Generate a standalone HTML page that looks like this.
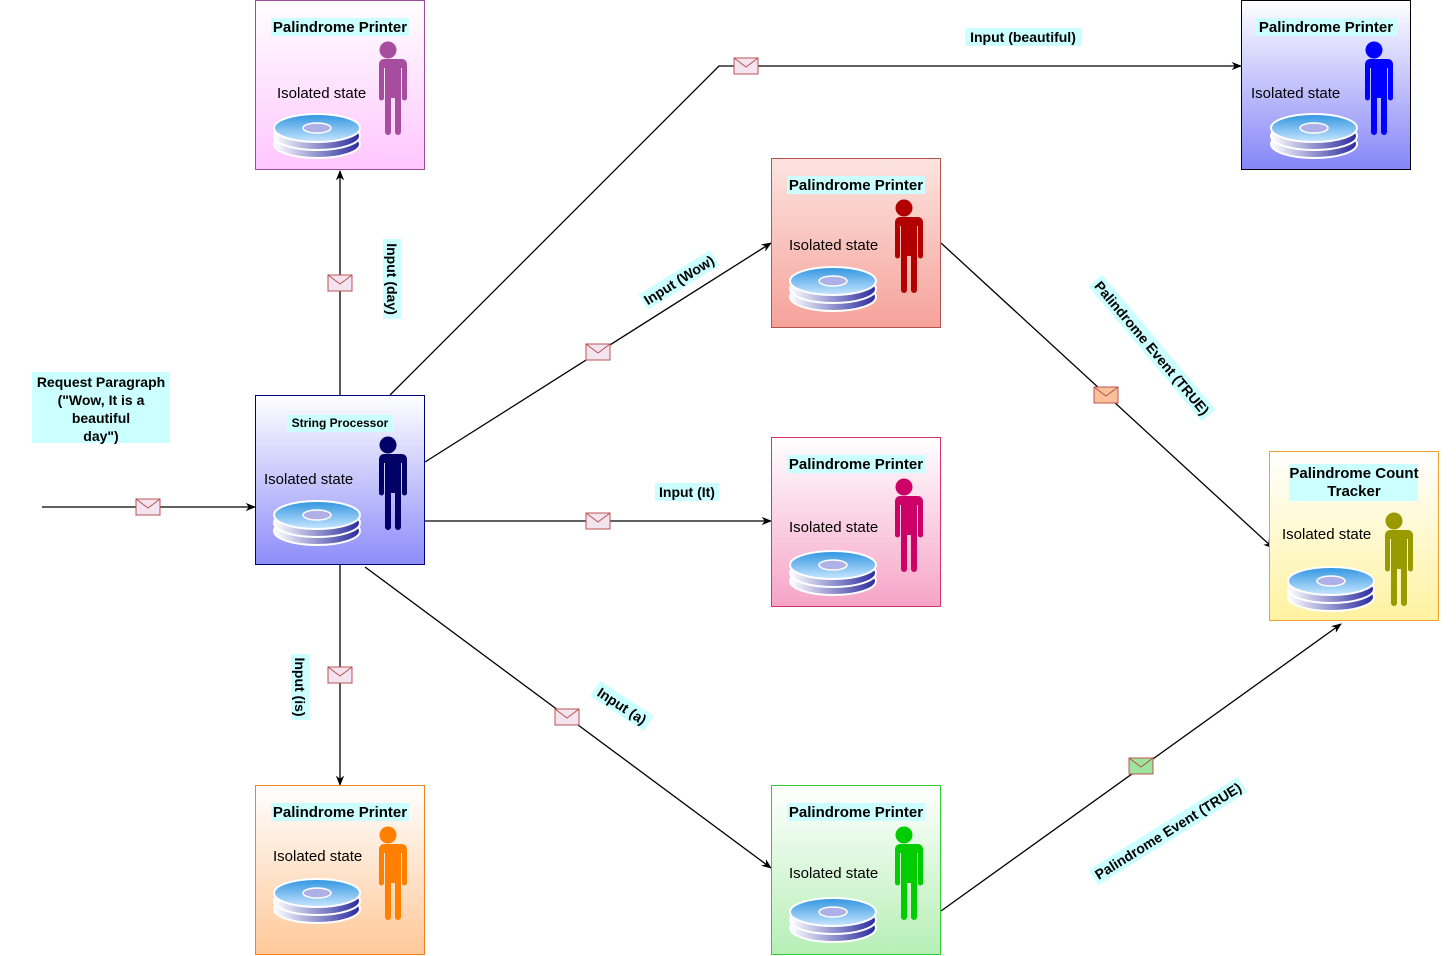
<!DOCTYPE html>
<html><head><meta charset="utf-8"><style>
html,body{margin:0;padding:0;background:#fff}
svg{display:block}
text{font-family:"Liberation Sans",sans-serif}
</style></head><body>
<svg width="1456" height="956" viewBox="0 0 1456 956" xmlns="http://www.w3.org/2000/svg">
<defs>
<marker id="ar" viewBox="0 0 10 10" refX="9" refY="5" markerWidth="8" markerHeight="8" orient="auto"><path d="M0,1 L10,5 L0,9 L3,5 z" fill="#000"/></marker>
<linearGradient id="gPur" x1="0" y1="0" x2="0" y2="1"><stop offset="0" stop-color="#fff"/><stop offset="1" stop-color="#ffc6ff"/></linearGradient>
<linearGradient id="gSP" x1="0" y1="0" x2="0" y2="1"><stop offset="0" stop-color="#fff"/><stop offset="1" stop-color="#8d8dfa"/></linearGradient>
<linearGradient id="gBlu" x1="0" y1="0" x2="0" y2="1"><stop offset="0" stop-color="#fff"/><stop offset="1" stop-color="#8585f8"/></linearGradient>
<linearGradient id="gRed" x1="0" y1="0" x2="0" y2="1"><stop offset="0" stop-color="#fde4e0"/><stop offset="1" stop-color="#f5a29a"/></linearGradient>
<linearGradient id="gPnk" x1="0" y1="0" x2="0" y2="1"><stop offset="0" stop-color="#fff"/><stop offset="1" stop-color="#f6a4c8"/></linearGradient>
<linearGradient id="gOrg" x1="0" y1="0" x2="0" y2="1"><stop offset="0" stop-color="#fff"/><stop offset="1" stop-color="#ffc899"/></linearGradient>
<linearGradient id="gGrn" x1="0" y1="0" x2="0" y2="1"><stop offset="0" stop-color="#fff"/><stop offset="1" stop-color="#b6efb6"/></linearGradient>
<linearGradient id="gYel" x1="0" y1="0" x2="0" y2="1"><stop offset="0" stop-color="#fff"/><stop offset="1" stop-color="#fff2a0"/></linearGradient>
<linearGradient id="disk" x1="0" y1="0" x2="1" y2="0"><stop offset="0" stop-color="#ffffff"/><stop offset="1" stop-color="#2a2aa0"/></linearGradient>
<linearGradient id="diskTop" x1="0" y1="0" x2="0" y2="1"><stop offset="0" stop-color="#2f95e0"/><stop offset="1" stop-color="#c8e6ff"/></linearGradient>
<g id="dk">
<ellipse cx="0" cy="16" rx="43" ry="14" fill="url(#disk)" stroke="#fff" stroke-width="2"/>
<ellipse cx="0" cy="8" rx="43" ry="14" fill="url(#disk)" stroke="#fff" stroke-width="2"/>
<ellipse cx="0" cy="0" rx="43" ry="14" fill="url(#diskTop)" stroke="#fff" stroke-width="2"/>
<ellipse cx="0" cy="0" rx="14" ry="5" fill="#b0b0e8" stroke="#fff" stroke-width="1.5"/>
</g>
<g id="man">
<circle cx="133" cy="50" r="8.5"/>
<path d="M119,59 h28 a5,5 0 0 1 5,5 v34 a2.5,2.5 0 0 1 -5,0 v-30 h-1 v64 a3,3 0 0 1 -6,0 v-34 h-4 v34 a3,3 0 0 1 -6,0 v-64 h-1 v30 a2.5,2.5 0 0 1 -5,0 v-34 a5,5 0 0 1 5,-5z"/>
</g>
<g id="env"><rect x="-12" y="-8" width="24" height="16" fill="#f3e4f0" stroke="#b85450"/><path d="M-12,-8 L0,1 L12,-8" fill="none" stroke="#b85450"/></g>
<g id="envO"><rect x="-12" y="-8" width="24" height="16" fill="#fbc09a" stroke="#b85450"/><path d="M-12,-8 L0,1 L12,-8" fill="none" stroke="#b85450"/></g>
<g id="envG"><rect x="-12" y="-8" width="24" height="16" fill="#9ee39e" stroke="#b85450"/><path d="M-12,-8 L0,1 L12,-8" fill="none" stroke="#b85450"/></g>
</defs>

<g stroke="#000" stroke-width="1.3" fill="none" marker-end="url(#ar)">
<path d="M42,507 L255,507"/>
<path d="M340,395 L340,171"/>
<path d="M390,395 L719,66 L1241,66"/>
<path d="M425,462 L771,243"/>
<path d="M425,521 L771,521"/>
<path d="M340,565 L340,785"/>
<path d="M365,567 L771,868"/>
<path d="M941,243 L1273,548"/>
<path d="M941,911 L1341,624"/>
</g>
<use href="#env" x="148" y="507"/>
<use href="#env" x="340" y="283"/>
<use href="#env" x="746" y="66"/>
<use href="#env" x="598" y="352"/>
<use href="#env" x="598" y="521"/>
<use href="#env" x="340" y="675"/>
<use href="#env" x="567" y="717"/>
<use href="#envO" x="1106" y="395"/>
<use href="#envG" x="1141" y="766"/>

<g font-size="14" font-weight="bold" fill="#000">
<rect x="32" y="372" width="138" height="71" fill="#ccffff"/>
<text x="101" y="387" text-anchor="middle">Request Paragraph</text>
<text x="101" y="405" text-anchor="middle">("Wow, It is a</text>
<text x="101" y="423" text-anchor="middle">beautiful</text>
<text x="101" y="441" text-anchor="middle">day")</text>

<rect x="965" y="28" width="117" height="18" fill="#ccffff"/>
<text x="1023" y="42" text-anchor="middle">Input (beautiful)</text>
<rect x="655" y="483" width="64" height="18" fill="#ccffff"/>
<text x="687" y="497" text-anchor="middle">Input (It)</text>

<g transform="translate(392,279) rotate(90)"><rect x="-40" y="-9" width="80" height="18" fill="#ccffff"/><text x="0" y="5" text-anchor="middle">Input (day)</text></g>
<g transform="translate(300,687) rotate(90)"><rect x="-33" y="-9" width="66" height="18" fill="#ccffff"/><text x="0" y="5" text-anchor="middle">Input (is)</text></g>
<g transform="translate(679,280) rotate(-32)"><rect x="-42" y="-9" width="84" height="18" fill="#ccffff"/><text x="0" y="5" text-anchor="middle">Input (Wow)</text></g>
<g transform="translate(622,706) rotate(33)"><rect x="-32" y="-9" width="64" height="18" fill="#ccffff"/><text x="0" y="5" text-anchor="middle">Input (a)</text></g>
<g transform="translate(1152,348) rotate(50)"><rect x="-88" y="-9" width="176" height="18" fill="#ccffff"/><text x="0" y="5" text-anchor="middle">Palindrome Event (TRUE)</text></g>
<g transform="translate(1168,831) rotate(-32)"><rect x="-88" y="-9" width="176" height="18" fill="#ccffff"/><text x="0" y="5" text-anchor="middle">Palindrome Event (TRUE)</text></g>
</g>

<g transform="translate(255,0)">
<rect x="0.5" y="0.5" width="169" height="169" fill="url(#gPur)" stroke="#9b4d9b"/>
<rect x="16" y="18" width="138" height="18" fill="#ccffff"/><text x="85" y="32" text-anchor="middle" font-size="15" font-weight="bold">Palindrome Printer</text>
<text x="22" y="98" font-size="15">Isolated state</text>
<use href="#dk" x="62" y="128"/>
<use href="#man" fill="#a64d9f"/>
</g>
<g transform="translate(255,395)">
<rect x="0.5" y="0.5" width="169" height="169" fill="url(#gSP)" stroke="#000080"/>
<rect x="32" y="20" width="106" height="17" fill="#ccffff"/><text x="85" y="32" text-anchor="middle" font-size="12" font-weight="bold">String Processor</text>
<text x="9" y="89" font-size="15">Isolated state</text>
<use href="#dk" x="62" y="120"/>
<use href="#man" fill="#000066"/>
</g>
<g transform="translate(1241,0)">
<rect x="0.5" y="0.5" width="169" height="169" fill="url(#gBlu)" stroke="#000"/>
<rect x="14" y="18" width="142" height="18" fill="#ccffff"/><text x="85" y="32" text-anchor="middle" font-size="15" font-weight="bold">Palindrome Printer</text>
<text x="10" y="98" font-size="15">Isolated state</text>
<use href="#dk" x="73" y="128"/>
<use href="#man" fill="#0000ff"/>
</g>
<g transform="translate(771,158)">
<rect x="0.5" y="0.5" width="169" height="169" fill="url(#gRed)" stroke="#b85450"/>
<rect x="16" y="18" width="138" height="18" fill="#ccffff"/><text x="85" y="32" text-anchor="middle" font-size="15" font-weight="bold">Palindrome Printer</text>
<text x="18" y="92" font-size="15">Isolated state</text>
<use href="#dk" x="62" y="123"/>
<use href="#man" fill="#b20000"/>
</g>
<g transform="translate(771,437)">
<rect x="0.5" y="0.5" width="169" height="169" fill="url(#gPnk)" stroke="#d6336f"/>
<rect x="16" y="18" width="138" height="18" fill="#ccffff"/><text x="85" y="32" text-anchor="middle" font-size="15" font-weight="bold">Palindrome Printer</text>
<text x="18" y="95" font-size="15">Isolated state</text>
<use href="#dk" x="62" y="128"/>
<use href="#man" fill="#cc0066"/>
</g>
<g transform="translate(255,785)">
<rect x="0.5" y="0.5" width="169" height="169" fill="url(#gOrg)" stroke="#f08020"/>
<rect x="16" y="18" width="138" height="18" fill="#ccffff"/><text x="85" y="32" text-anchor="middle" font-size="15" font-weight="bold">Palindrome Printer</text>
<text x="18" y="76" font-size="15">Isolated state</text>
<use href="#dk" x="62" y="108"/>
<use href="#man" fill="#ff8000"/>
</g>
<g transform="translate(771,785)">
<rect x="0.5" y="0.5" width="169" height="169" fill="url(#gGrn)" stroke="#33cc33"/>
<rect x="16" y="18" width="138" height="18" fill="#ccffff"/><text x="85" y="32" text-anchor="middle" font-size="15" font-weight="bold">Palindrome Printer</text>
<text x="18" y="93" font-size="15">Isolated state</text>
<use href="#dk" x="62" y="127"/>
<use href="#man" fill="#00cc00"/>
</g>
<g transform="translate(1269,451)">
<rect x="0.5" y="0.5" width="169" height="169" fill="url(#gYel)" stroke="#f0a030"/>
<rect x="20" y="13" width="129" height="37" fill="#ccffff"/>
<text x="85" y="27" text-anchor="middle" font-size="15" font-weight="bold">Palindrome Count</text>
<text x="85" y="45" text-anchor="middle" font-size="15" font-weight="bold">Tracker</text>
<text x="13" y="88" font-size="15">Isolated state</text>
<use href="#dk" x="62" y="130"/>
<g transform="translate(-8,20)"><use href="#man" fill="#999900"/></g>
</g>
</svg>
</body></html>
